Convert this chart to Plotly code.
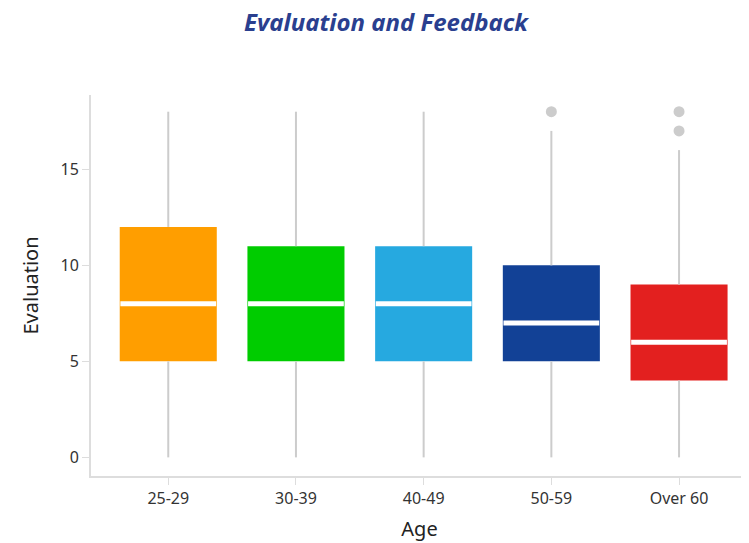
import plotly.graph_objects as go

categories = ["25-29", "30-39", "40-49", "50-59", "Over 60"]
mins = [0, 0, 0, 0, 0]
q1 = [5, 5, 5, 5, 4]
medians = [8, 8, 8, 7, 6]
q3 = [12, 11, 11, 10, 9]
maxs = [18, 18, 18, 17, 16]
outlier_cats = ["50-59", "Over 60", "Over 60"]
outlier_vals = [18, 17, 18]
colors = ["#FF9E00", "#00CC00", "#26A9E0", "#124196", "#E3201F"]

fig = go.Figure()

# whiskers (lower and upper segments, outside the boxes)
wx, wy = [], []
for c, lo, a, b, hi in zip(categories, mins, q1, q3, maxs):
    wx += [c, c, None, c, c, None]
    wy += [lo, a, None, b, hi, None]
fig.add_trace(go.Scatter(x=wx, y=wy, mode="lines",
                         line=dict(color="#cccccc", width=2),
                         hoverinfo="skip", showlegend=False))

# boxes
fig.add_trace(go.Bar(x=categories, y=[b - a for a, b in zip(q1, q3)], base=q1,
                     marker=dict(color=colors, line=dict(width=0)),
                     width=0.76, showlegend=False))

# medians
med_h = 0.26
fig.add_trace(go.Bar(x=categories, y=[med_h] * len(medians),
                     base=[m - med_h / 2 for m in medians],
                     marker=dict(color="white", line=dict(width=0)),
                     width=0.75, showlegend=False, hoverinfo="skip"))

# outliers
fig.add_trace(go.Scatter(x=outlier_cats, y=outlier_vals, mode="markers",
                         marker=dict(color="#cccccc", size=11),
                         showlegend=False))

# page body adds an 8px offset, so the figure is sized/margined to compensate
W, H = 741, 535
font_family = "Noto Sans"
fig.update_layout(
    width=W, height=H,
    margin=dict(l=83, r=1, t=87, b=67, autoexpand=False),
    plot_bgcolor="white", paper_bgcolor="white",
    barmode="overlay",
    font=dict(family=font_family, color="#333333", size=17),
    title=dict(text="Evaluation and Feedback", x=378 / W, xanchor="center",
               y=1 - 15 / H, yanchor="middle",
               font=dict(family=font_family, size=24, color="#2A3F8F",
                         weight="bold", style="italic")),
    xaxis=dict(range=[-0.605, 4.54], showline=True, linecolor="#dddddd", linewidth=2,
               ticks="outside", tickcolor="#dddddd", ticklen=7, tickwidth=1,
               showgrid=False, zeroline=False, automargin=False,
               title=dict(text="Age", font=dict(size=20, color="#222222"), standoff=14),
               tickfont=dict(size=16, color="#333333")),
    yaxis=dict(range=[-0.97, 18.87], showline=True, linecolor="#dddddd", linewidth=2,
               ticks="outside", tickcolor="#dddddd", ticklen=7, tickwidth=1,
               tickvals=[0, 5, 10, 15], showgrid=False, zeroline=False, automargin=False,
               title=dict(text="Evaluation", font=dict(size=20, color="#222222"), standoff=16),
               tickfont=dict(size=16, color="#333333")),
)

fig.write_html("out.html")
